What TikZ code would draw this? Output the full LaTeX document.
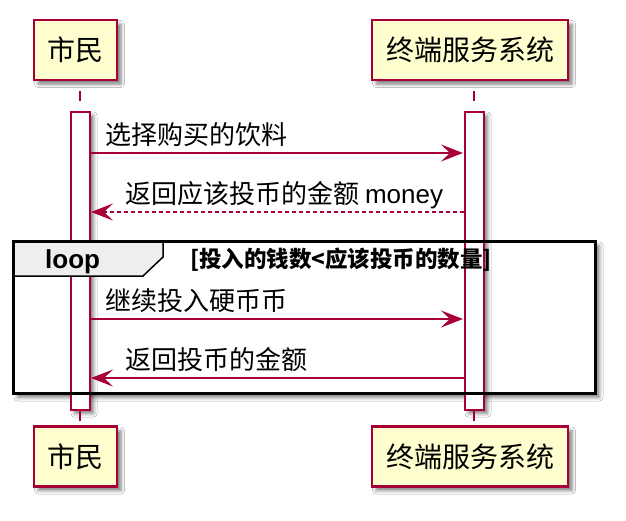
\documentclass[tikz,border=0pt]{standalone}
\usepackage{fontspec}
\setmainfont{Liberation Sans}
\newfontfamily\cjk{Noto Sans CJK SC}
\usetikzlibrary{arrows.meta,shadows.blur}
\definecolor{pfill}{HTML}{FEFECE}
\definecolor{pborder}{HTML}{A80036}
\definecolor{tabfill}{HTML}{EEEEEE}
\begin{document}
\begin{tikzpicture}[x=1pt,y=-1pt,
  shd/.style={blur shadow={shadow xshift=4pt,shadow yshift=-4pt,shadow blur radius=3.5pt,shadow opacity=50}},
  part/.style={draw=pborder,line width=2.5pt,fill=pfill,minimum height=60pt,inner sep=0pt,font=\cjk\fontsize{28}{32}\selectfont,shd},
  actbar/.style={draw=pborder,line width=2pt,fill=white,minimum width=19pt,minimum height=298pt,inner sep=0pt,shd},
  life/.style={draw=pborder,line width=2pt,dash pattern=on 10pt off 10pt},
  msg/.style={draw=pborder,line width=2pt,-{Stealth[length=22pt,width=17pt,inset=9pt]}},
  lbl/.style={anchor=base west,inner sep=0pt,font=\cjk\fontsize{26}{30}\selectfont},
  frame/.style={line width=3.3pt}]
\useasboundingbox[fill=white] (0,0) rectangle (626,520);

% loop frame background with shadow
\fill[white,shd] (13.5,241.5) rectangle (595.5,393.5);

% participants
\node[part,minimum width=83pt] (p1t) at (75.5,50) {市民};
\node[part,minimum width=196pt] (p2t) at (470,50) {终端服务系统};
\node[part,minimum width=83pt] (p1b) at (75.5,456.5) {市民};
\node[part,minimum width=196pt] (p2b) at (470,456.5) {终端服务系统};

% activation bars
\node[actbar] (a1) at (80,260.5) {};
\node[actbar] (a2) at (474,260.5) {};

% lifelines
\draw[life,dash phase=10pt] (a1.north |- p1t.south) -- (a1.north);
\draw[life,dash phase=10pt] (a2.north |- p2t.south) -- (a2.north);
\draw[life] (a1.south) -- (a1.south |- p1b.north);
\draw[life] (a2.south) -- (a2.south |- p2b.north);

% loop frame
\draw[frame] (13.5,241.5) rectangle (595.5,393.5);
\draw[line width=1.5pt,fill=tabfill] (13.5,241.5) -- (163,241.5) -- (163,257) -- (143,276) -- (13.5,276) -- cycle;
\draw[frame] (13.5,241.5) -- (163,241.5);
\draw[frame] (13.5,241.5) -- (13.5,276);
\node[anchor=base west,inner sep=0pt,font=\bfseries\fontsize{26}{30}\selectfont] (looplbl) at (45,268) {loop};
\node[anchor=base west,inner sep=0pt,font=\cjk\bfseries\fontsize{22.5}{26}\selectfont] (guard) at (190,267) {[投入的钱数<应该投币的数量]};

% message end points
\coordinate (m1s) at (90,153);   \coordinate (m1e) at (463,153);
\coordinate (m2s) at (464,212);  \coordinate (m2e) at (91,212);
\coordinate (m3s) at (90,319);   \coordinate (m3e) at (463,319);
\coordinate (m4s) at (464,378);  \coordinate (m4e) at (91,378);

% messages
\draw[msg] (m1s) -- (m1e);
\node[lbl] (t1) at (105,144) {选择购买的饮料};
\draw[msg,dash pattern=on 4pt off 3pt] (m2s) -- (m2e);
\node[lbl] (t2) at (125,203) {返回应该投币的金额 {\fontspec{Liberation Sans}money}};
\draw[msg] (m3s) -- (m3e);
\node[lbl] (t3) at (105,310) {继续投入硬币币};
\draw[msg] (m4s) -- (m4e);
\node[lbl] (t4) at (125,369) {返回投币的金额};
\end{tikzpicture}
\end{document}
